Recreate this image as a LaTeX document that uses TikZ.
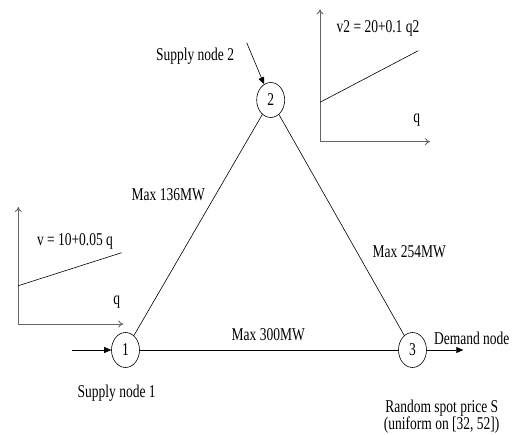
\documentclass[tikz,border=0pt]{standalone}
\usepackage{fontspec}
\usepackage{graphicx}
\setmainfont{Liberation Serif}
\usetikzlibrary{shapes.geometric,arrows.meta}
\newcommand{\nrw}[1]{\scalebox{0.75}[1]{#1}}
\begin{document}
\begin{tikzpicture}[x=1pt,y=-1pt,
  lbl/.style={inner sep=0pt, font=\fontsize{18}{20}\selectfont},
  bus/.style={draw, ellipse, minimum width=28pt, minimum height=35pt, inner sep=0pt, line width=0.6pt, font=\fontsize{18}{20}\selectfont},
  line/.style={line width=0.6pt},
  flow/.style={line width=0.6pt, -{Triangle[length=7pt,width=6pt]}},
  axis/.style={draw=black!60, line width=0.9pt, -{To[length=5pt,width=7pt]}}]
\useasboundingbox (0,0) rectangle (514,435);
% nodes
\node[bus] (n1) at (125.5,350) {\nrw{1}};
\node[bus] (n2) at (270.7,100) {\nrw{2}};
\node[bus] (n3) at (412.5,350) {\nrw{3}};
% edges
\draw[line] (n1) -- (n2);
\draw[line] (n2) -- (n3);
\draw[line] (n1) -- (n3);
% external arrows
\coordinate (in1) at (71.7,350);
\coordinate (out3) at (463.3,350);
\coordinate (in2) at (246.7,42.7);
\draw[flow] (in1) -- (n1);
\draw[flow] (n3) -- (out3);
\draw[flow] (in2) -- (n2);
% labels
\node[lbl] (s2) at (195,56) {\nrw{Supply node 2}};
\node[lbl] (l12) at (168.3,194.3) {\nrw{Max 136MW}};
\node[lbl] (l23) at (409.3,251.7) {\nrw{Max 254MW}};
\node[lbl] (l13) at (268.3,335) {\nrw{Max 300MW}};
\node[lbl] (dn) at (471.7,338.3) {\nrw{Demand node}};
\node[lbl] (s1) at (116.7,393.3) {\nrw{Supply node 1}};
\node[lbl] (rs) at (441.7,408) {\nrw{Random spot price S}};
\node[lbl] (un) at (441.7,425.5) {\nrw{(uniform on [32, 52])}};
% upper right graph
\coordinate (o2) at (320,141.7);
\coordinate (y2) at (320,9.3);
\coordinate (x2) at (430,141.7);
\draw[axis] (o2) -- (y2);
\draw[axis] (o2) -- (x2);
\coordinate (a2) at (320,102.3);
\coordinate (b2) at (418.3,50.7);
\draw[line] (a2) -- (b2);
\node[lbl] (v2) at (378,28) {\nrw{v2 = 20+0.1 q2}};
\node[lbl] (q2) at (416.7,120) {\nrw{q}};
% left graph
\coordinate (o1) at (18.3,324);
\coordinate (y1) at (18.3,207);
\coordinate (x1) at (123.3,324);
\draw[axis] (o1) -- (y1);
\draw[axis] (o1) -- (x1);
\coordinate (a1) at (18.3,285.7);
\coordinate (b1) at (121.7,252.7);
\draw[line] (a1) -- (b1);
\node[lbl] (v1) at (75,241.7) {\nrw{v = 10+0.05 q}};
\node[lbl] (q1) at (116.7,301.7) {\nrw{q}};
\end{tikzpicture}
\end{document}
